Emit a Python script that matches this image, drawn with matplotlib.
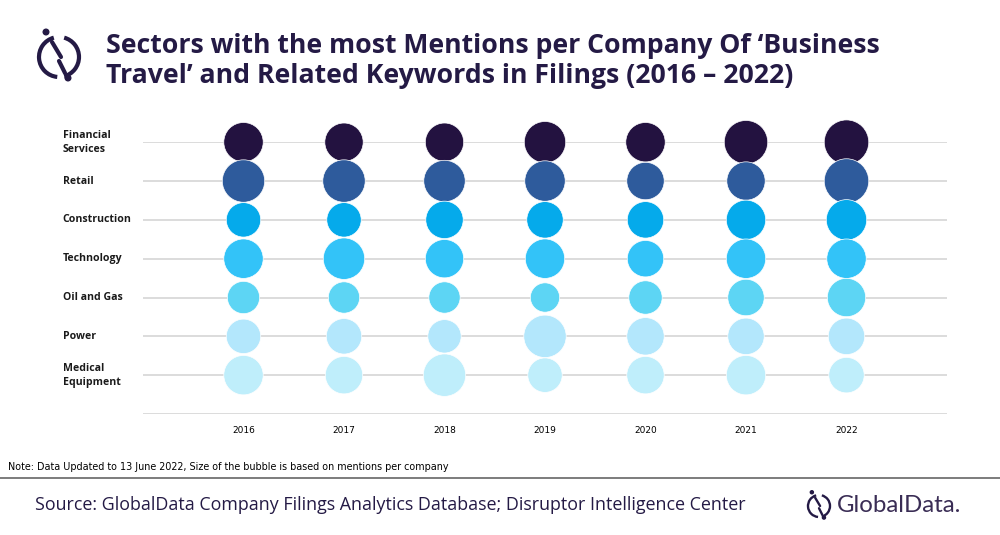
import matplotlib
matplotlib.use("Agg")
import matplotlib.pyplot as plt
from matplotlib.patches import Arc, Circle
import numpy as np

years = [2016, 2017, 2018, 2019, 2020, 2021, 2022]
sectors = ["Financial\nServices", "Retail", "Construction", "Technology",
           "Oil and Gas", "Power", "Medical\nEquipment"]
colors = ["#231240", "#2E5B9C", "#05AAEB", "#33C3F8", "#5DD5F4", "#B3E7FC", "#BFEEFB"]

# mentions per company (relative bubble size)
financial = [15.2, 14.4, 14.4, 16.8, 15.2, 18.5, 19.4]
retail = [17.6, 17.6, 16.8, 16.0, 13.7, 14.4, 19.4]
construction = [11.6, 11.6, 13.7, 13.0, 13.0, 15.2, 16.0]
technology = [15.2, 16.8, 14.4, 15.2, 13.0, 15.2, 15.2]
oil_gas = [10.2, 9.6, 9.6, 8.4, 10.9, 13.0, 14.4]
power = [11.6, 12.3, 10.9, 17.6, 13.7, 13.0, 13.0]
medical = [15.2, 13.7, 17.6, 11.6, 13.7, 15.2, 12.3]
series = [financial, retail, construction, technology, oil_gas, power, medical]

purple = "#241a45"
fig = plt.figure(figsize=(10, 5.35), dpi=100)

ax = fig.add_axes([0.143, 0.2262, 0.804, 0.508])
ax.set_xlim(2015, 2023)
ax.set_ylim(0, 7)
for yv in range(8):
    ax.axhline(yv, color="#D9D9D9", lw=1.3, zorder=0)
for i, vals in enumerate(series):
    ypos = 7 - i
    ax.scatter(years, [ypos] * len(years), s=np.array(vals) * 53,
               color=colors[i], edgecolor="white", linewidth=0.5,
               zorder=2 + i, clip_on=False)
    ax.text(-0.1, ypos / 7, sectors[i], transform=ax.transAxes, ha="left",
            va="center", fontsize=7.6, fontweight="bold", color="#1a1a1a",
            family="Open Sans", linespacing=1.35)
ax.set_xticks(years)
ax.set_xticklabels([str(y) for y in years], fontsize=6.5,
                   family=["Liberation Sans Narrow", "DejaVu Sans"])
ax.tick_params(axis="x", length=0, pad=9)
ax.set_yticks([])
for sp in ax.spines.values():
    sp.set_visible(False)

# overlay for title, footer and logos in pixel coordinates
ov = fig.add_axes([0, 0, 1, 1], zorder=-1)
ov.set_xlim(0, 1000)
ov.set_ylim(535, 0)
ov.axis("off")

ov.text(106, 61, "Sectors with the most Mentions per Company Of \u2018Business\n"
        "Travel\u2019 and Related Keywords in Filings (2016 \u2013 2022)",
        ha="left", va="center", fontsize=19.2, fontweight="bold", color=purple,
        family="Open Sans", linespacing=1.22)

ov.text(8, 467, "Note: Data Updated to 13 June 2022, Size of the bubble is based on mentions per company",
        ha="left", va="center", fontsize=6.9, color="#000000",
        family=["Liberation Sans Narrow", "DejaVu Sans"])
ov.plot([0, 1000], [478, 478], color="#666666", lw=1.2)
ov.text(35, 505, "Source: GlobalData Company Filings Analytics Database; Disruptor Intelligence Center",
        ha="left", va="center", fontsize=12.85, color=purple, family="Open Sans")
ov.text(837, 506, "GlobalData.", ha="left", va="center", fontsize=17.3,
        color="#3a2d55", family="Lato")


def logo(cx, cy, r, lw):
    ov.add_patch(Arc((cx, cy), 2 * r, 2 * r, theta1=95, theta2=255,
                     color=purple, lw=lw))
    ov.add_patch(Arc((cx, cy), 2 * r, 2 * r, theta1=285, theta2=75,
                     color=purple, lw=lw))
    ov.plot([cx - 0.35 * r, cx + 0.1 * r], [cy - 0.75 * r, cy + 0.0 * r],
            color=purple, lw=lw, solid_capstyle="round")
    ov.plot([cx + 0.0 * r, cx + 0.3 * r], [cy + 0.2 * r, cy + 0.8 * r],
            color=purple, lw=lw, solid_capstyle="round")
    ov.add_patch(Circle((cx - 0.65 * r, cy - 1.25 * r), 0.14 * r, color=purple))
    ov.add_patch(Circle((cx + 0.45 * r, cy + 1.05 * r), 0.14 * r, color=purple))


logo(59, 57, 20, 3.0)
logo(819, 506, 11, 1.7)

fig.savefig("out.png", dpi=100)
